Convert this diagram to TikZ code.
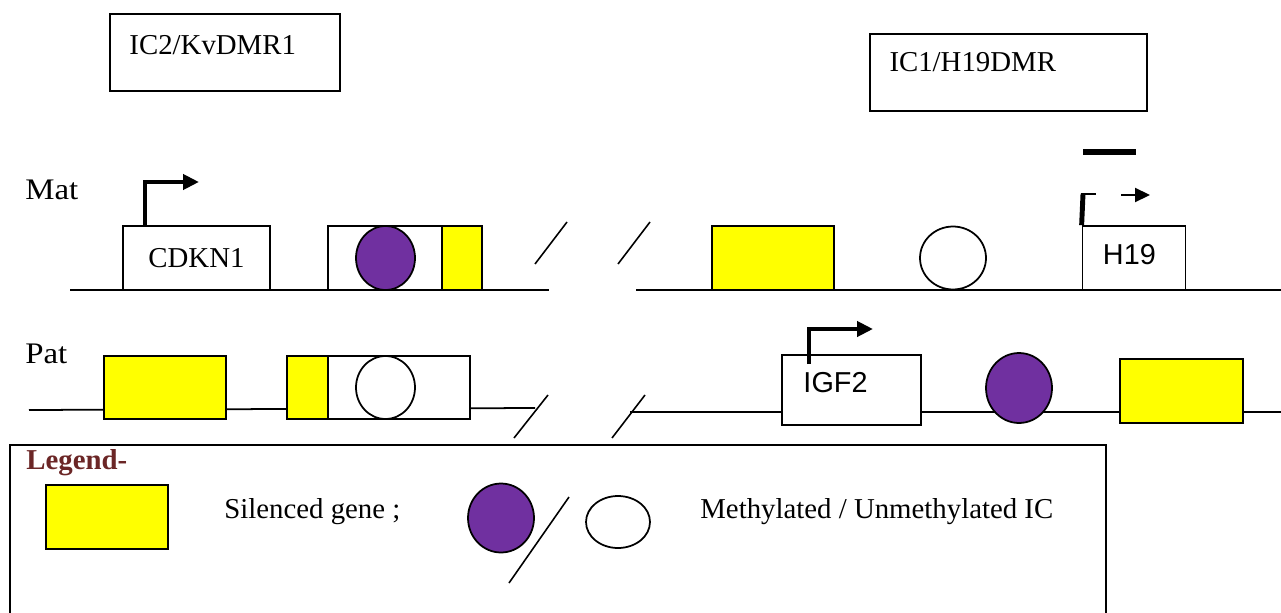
\documentclass[tikz,border=0pt]{standalone}
\usepackage{fontspec}
\setmainfont{Liberation Serif}
\newfontfamily\genefont{Liberation Sans}
\usetikzlibrary{arrows.meta,shapes.geometric,positioning}

\definecolor{icpurple}{HTML}{7030A0}
\definecolor{legendred}{HTML}{6B2626}
\definecolor{genoff}{HTML}{FFFF00}

\tikzset{
  genebox/.style = {draw, fill = white, line width = 1pt, shape = rectangle, inner sep = 0pt},
  silenced/.style = {draw, fill = genoff, line width = 1pt, shape = rectangle, inner sep = 0pt},
  metIC/.style = {draw, fill = icpurple, line width = 1pt, shape = ellipse, inner sep = 0pt},
  unmetIC/.style = {draw, fill = white, line width = 1pt, shape = ellipse, inner sep = 0pt},
  dmrbox/.style = {draw, line width = 1pt, shape = rectangle, inner sep = 0pt},
  inlabel/.style = {inner sep = 0pt, anchor = west},
  allele/.style = {inner sep = 0pt, anchor = west, font = \fontsize{17}{20}\selectfont, xscale = 1.1},
  dna/.style = {line width = 1pt},
  breakmark/.style = {line width = 0.9pt},
  promoter/.style = {line width = 2.3pt, -{Triangle[length = 0.32cm, width = 0.3cm]}},
}

\begin{document}
\begin{tikzpicture}[x = 0.02cm, y = -0.02cm, font = \fontsize{16.4}{19}\selectfont]
\useasboundingbox (0,0) rectangle (1281,612);
\clip (0,0) rectangle (1281,612);

% DMR boxes
\node[dmrbox, minimum width = 4.6cm, minimum height = 1.54cm,
  label = {[inlabel, xshift = 0.4cm, yshift = 0.15cm] west:IC2/KvDMR1}] (ic2) at (225,52.5) {};
\node[dmrbox, minimum width = 5.54cm, minimum height = 1.54cm,
  label = {[inlabel, xshift = 0.4cm, yshift = 0.21cm] west:IC1/H19DMR}] (ic1) at (1008.5,72.5) {};

\node[allele] (mat) at (25,190) {Mat};
\node[allele] (pat) at (25,354) {Pat};

% maternal allele
\coordinate (matA) at (70,290);
\coordinate (matB) at (549,290);
\coordinate (matC) at (636,290);
\coordinate (matD) at (1281,290);
\draw[dna] (matA) -- (matB);
\draw[dna] (matC) -- (matD);

\node[genebox, minimum width = 2.94cm, minimum height = 1.28cm] (cdkn) at (196.5,258) {CDKN1};
\coordinate (cdknTSS) at (199,182);
\draw[promoter] ([xshift = 0.46cm]cdkn.north west) |- (cdknTSS);

\node[genebox, minimum width = 3.08cm, minimum height = 1.28cm] (kvMat) at (405,258) {};
\node[silenced, minimum width = 0.8cm, minimum height = 1.28cm] (kvMatY) at (462,258) {};
\node[metIC, minimum width = 1.18cm, minimum height = 1.28cm] (kvMatIC) at (385.5,258) {};

\node[silenced, minimum width = 2.44cm, minimum height = 1.28cm] (igfMat) at (773,258) {};
\node[unmetIC, minimum width = 1.32cm, minimum height = 1.26cm] (h19MatIC) at (953,258) {};
\node[genebox, minimum width = 2.06cm, minimum height = 1.28cm,
  label = {[inlabel, xshift = 0.42cm, yshift = 0.06cm] west:\genefont H19}] (h19) at (1134,258) {};
\coordinate (h19TSS) at (1083,194);
\coordinate (h19Stub) at (1096,194);
\coordinate (h19ArrA) at (1121,195);
\coordinate (h19ArrB) at (1150,195);
\coordinate (h19BarA) at (1083,152);
\coordinate (h19BarB) at (1136,152);
\draw[line width = 2.8pt] (h19.north west) -- (h19TSS);
\draw[line width = 1.2pt] ([xshift = -1.4pt]h19TSS) -- (h19Stub);
\draw[line width = 1.2pt, -{Triangle[length = 0.3cm, width = 0.28cm]}] (h19ArrA) -- (h19ArrB);
\draw[line width = 3.4pt] (h19BarA) -- (h19BarB);

% paternal allele
\coordinate (patA) at (29,410);
\coordinate (patB) at (535,408);
\coordinate (patC) at (630,412);
\coordinate (patD) at (1281,412);
\draw[dna] (patA) -- (patB);
\draw[dna] (patC) -- (patD);

\node[silenced, minimum width = 2.44cm, minimum height = 1.26cm] (cdknPat) at (165,387.5) {};
\node[genebox, minimum width = 2.84cm, minimum height = 1.26cm] (kvPat) at (399,387.5) {};
\node[silenced, minimum width = 0.82cm, minimum height = 1.26cm] (kvPatY) at (307.5,387.5) {};
\node[unmetIC, minimum width = 1.18cm, minimum height = 1.26cm] (kvPatIC) at (385.5,387.5) {};

\node[genebox, minimum width = 2.78cm, minimum height = 1.4cm,
  label = {[inlabel, xshift = 0.44cm, yshift = 0.14cm] west:\genefont IGF2}] (igf2) at (851.5,390) {};
\coordinate (igf2TSS) at (873,329);
\draw[promoter] ([xshift = 0.56cm, yshift = -0.2cm]igf2.north west) |- (igf2TSS);
\node[metIC, minimum width = 1.32cm, minimum height = 1.4cm] (h19PatIC) at (1019,388) {};
\node[silenced, minimum width = 2.46cm, minimum height = 1.28cm] (h19Pat) at (1181.5,391) {};

% breaks
\draw[breakmark] (535,264) -- (567,222);
\draw[breakmark] (618,264) -- (650,222);
\draw[breakmark] (514,438) -- (548,395);
\draw[breakmark] (612,438) -- (645,395);

% legend
\draw[line width = 1.3pt] (10,445) rectangle (1106,640);
\node[inner sep = 0pt, anchor = west, text = legendred, font = \fontsize{16.4}{19}\selectfont\bfseries] (legend) at (26,463) {Legend-};
\node[silenced, minimum width = 2.44cm, minimum height = 1.28cm] (keyY) at (107,517) {};
\node[inner sep = 0pt, anchor = west] (keyYtext) at (224,512) {Silenced gene ;};
\node[metIC, minimum width = 1.32cm, minimum height = 1.38cm] (keyMet) at (501,518) {};
\draw[breakmark] (509,583) -- (569,497);
\node[unmetIC, minimum width = 1.28cm, minimum height = 1.04cm] (keyUnmet) at (618,522) {};
\node[inner sep = 0pt, anchor = west] (keyICtext) at (700,512) {Methylated / Unmethylated IC};
\end{tikzpicture}
\end{document}
